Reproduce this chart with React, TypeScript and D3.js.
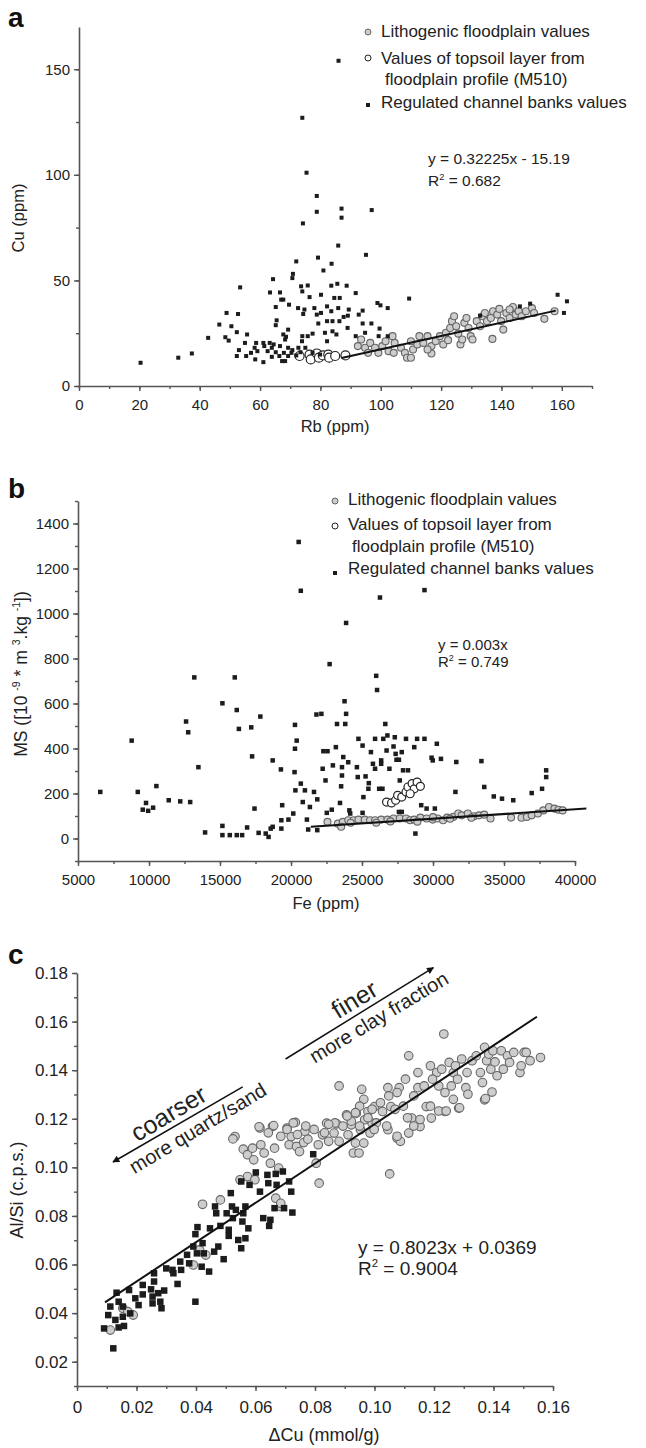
import React, { useEffect, useRef } from 'react';
import * as d3 from 'd3';

type Pt = [number, number];

// ---------- panel a : Cu vs Rb ----------
const rbCuBanks: Pt[] = [
  [86, 154], [74, 127], [75.4, 101], [78.8, 90], [78.8, 82.5], [87, 84], [87, 79.7], [97, 83.3], [74.2, 77],
  [85.9, 66.5], [79.2, 60.8], [95.1, 62.1], [72, 59], [83.7, 57.9], [81, 54.7], [70.9, 53.1], [70.7, 51.1],
  [64.3, 50.6], [53.4, 46.7], [73.6, 47.2], [75.8, 47.6], [85.6, 48.4], [83.6, 47.5], [88.7, 47.5], [74, 44.8],
  [63.3, 44.3], [66.6, 44.3], [76.4, 42.1], [80.2, 43.2], [84.6, 41.7], [86.4, 41.7], [91.7, 44], [67, 40.9],
  [67.7, 40.9], [65.2, 37.4], [69.6, 38.5], [72.6, 36.9], [74.7, 36.2], [78, 36.9], [82.2, 37.7], [85.9, 36.9],
  [98.9, 39.3], [99.9, 38.2], [102.3, 36.9], [109.4, 41.4], [48.9, 34.6], [52.7, 34.1], [74.3, 34.1], [78.8, 33.8],
  [80.2, 34.6], [83.6, 35.4], [89.4, 36.2], [92.7, 33.8], [94, 35.7], [89.1, 33.3], [87.7, 32.7], [86.3, 30.7],
  [84, 30.7], [82.2, 30.7], [79.3, 29.6], [65.5, 31.1], [65.2, 28.8], [46.5, 29.1], [50.5, 28.3], [94, 29.6],
  [96.9, 29.6], [69.3, 26.7], [89, 27.5], [99.6, 27.2], [84, 25.9], [81.5, 25.2], [77.4, 24.8], [85.3, 24.4],
  [52.3, 25.5], [55.7, 24.4], [67.7, 24.4], [68.6, 23.3], [91.7, 23.6], [94.8, 25.2], [42.8, 22.8], [48.5, 23.1],
  [49.6, 21.5], [68.3, 22], [74, 23.6], [75.8, 23.6], [73.9, 21.2], [82.2, 21.2], [99.3, 23.6], [102.3, 23.6],
  [55, 20.4], [58.7, 20.4], [61.1, 20.4], [63.2, 20.4], [64.5, 19.7], [58.2, 18.1], [61.4, 18.9], [63.9, 18.1],
  [66.6, 18.9], [69.3, 18.1], [70.7, 17], [72.7, 18.1], [75, 18.1], [53, 17], [59.1, 16.5], [62.5, 16.5],
  [65.2, 16], [67.9, 15.7], [70.4, 15.7], [73.4, 16], [52.3, 14.2], [55.4, 14.2], [58.4, 12.6], [61.1, 11.3],
  [63.9, 13.8], [67.3, 11.8], [68.3, 11.8], [66.4, 14.2], [69.3, 14.2], [72, 14.5], [57, 15.7], [32.9, 13.4],
  [37.4, 15.4], [20.4, 11], [77.4, 15.7], [79.9, 14.9], [158.6, 43.2], [161.7, 40.1], [160.7, 34.6],
  [149.5, 39], [146.1, 37.7], [132.9, 33.3],
];
const rbCuLitho: Pt[] = [
  [92.4, 18.9], [93.5, 22], [94.8, 18.1], [95.8, 15.7], [96.5, 20.4], [98.1, 18.1], [99.2, 15.7], [100.5, 18.9],
  [101.6, 21.2], [102.6, 16.5], [104.6, 20.4], [106.7, 18.1], [108, 15.7], [108.7, 13.4], [110, 13.4],
  [110.7, 17.3], [112.1, 19.7], [112.8, 23.6], [114.1, 20.4], [115.5, 23.6], [116.8, 18.9], [116.8, 15.4],
  [118.2, 21.2], [119.6, 23.6], [120.7, 19.7], [121.6, 25.2], [122.3, 21.7], [123, 27.5], [123.6, 30.7],
  [124.3, 33], [125, 28.3], [125.7, 24.8], [126.4, 19.7], [127, 22], [127.7, 29.9], [128.4, 32.2], [129.1, 27.5],
  [129.8, 23.6], [130.4, 22], [131.8, 30.7], [132.9, 28.3], [133.8, 33], [134.5, 34.6], [135.2, 30.7],
  [136.5, 32.2], [137.2, 35.4], [138.6, 33.8], [139.3, 36.5], [139.9, 30.7], [140.6, 26.7], [141.6, 34.6],
  [142.7, 32.2], [143.8, 37.4], [144.7, 33.8], [145.7, 35.4], [146.7, 33], [148.1, 35.4], [150.1, 36.9],
  [150.8, 34.6], [154.2, 31.8], [157.6, 35.4], [104.3, 15.7], [103.9, 23.6], [110, 21.2], [115.5, 17.3],
  [137, 22.3], [142.7, 36.2],
];
const rbCuTopsoil: Pt[] = [
  [73.1, 14.2], [76.4, 14.9], [76.8, 12.6], [78.8, 15.4], [79.5, 13.4], [80.8, 14.5], [82.6, 14.9], [82.9, 13.4],
  [84.9, 14.2], [88.3, 14.5],
];
const rbCuTrend: Pt[] = [[87, 13.3], [158, 35.7]];
const rbTicks = [0, 20, 40, 60, 80, 100, 120, 140, 160];
const rbMinor = d3.range(0, 171, 10);
const cuTicks = [0, 50, 100, 150];
const cuMinor = [0, 25, 50, 75, 100, 125, 150];

// ---------- panel b : MS vs Fe ----------
const feMsBanks: Pt[] = [
  [20540, 1318], [20690, 1101], [26265, 1071], [29400, 1104], [23880, 958], [22720, 775], [26000, 723],
  [26060, 660], [13190, 716], [16040, 716], [15170, 601], [16180, 571], [16330, 487], [17840, 542], [17200, 494],
  [12610, 520], [12760, 472], [8780, 435], [13480, 317], [17260, 365], [18710, 347], [6570, 207], [9210, 207],
  [10520, 233], [9790, 158], [9560, 128], [9940, 123], [10290, 137], [11390, 170], [12200, 165], [12900, 162],
  [17430, 133], [13950, 27], [15170, 56], [15170, 15], [15690, 15], [16180, 15], [16560, 15], [16910, 49],
  [17720, 25], [18220, 22], [18420, 7], [18570, 44], [18710, 52], [19290, 307], [19380, 148], [19320, 81],
  [19320, 44], [19820, 84], [20160, 111], [20310, 214], [20250, 295], [20280, 399], [20400, 435], [20280, 505],
  [20690, 244], [20980, 214], [21120, 84], [21210, 40], [20830, 162], [21330, 140], [21620, 207], [21790, 551],
  [22140, 554], [21850, 174], [22230, 310], [22280, 388], [22570, 388], [22430, 258], [22520, 114], [22870, 128],
  [22950, 325], [23160, 406], [23240, 509], [23450, 158], [23530, 232], [23590, 280], [23590, 317], [23680, 362],
  [23770, 610], [23820, 509], [23880, 554], [24030, 339], [24110, 125], [24170, 111], [24640, 317], [24700, 273],
  [24750, 443], [25040, 413], [25250, 276], [25480, 246], [25450, 221], [25100, 184], [25040, 114], [25630, 384],
  [25770, 332], [25920, 310], [25920, 443], [26350, 332], [26210, 221], [26440, 221], [26640, 509], [26790, 458],
  [26500, 443], [26350, 347], [26730, 391], [26930, 310], [27220, 409], [27370, 376], [27430, 350], [27310, 450],
  [27600, 350], [27800, 384], [27890, 303], [27660, 258], [28100, 443], [28240, 303], [27600, 118], [27800, 118],
  [28680, 406], [28880, 443], [29400, 443], [29170, 148], [29550, 133], [30130, 133], [28760, 22], [29900, 359],
  [29980, 347], [30270, 421], [30560, 354], [31580, 207], [31640, 340], [33410, 344], [33610, 229], [34280, 187],
  [34860, 177], [35650, 170], [36950, 202], [37680, 221], [37970, 273], [37970, 303], [21850, 37],
];
const feMsLitho: Pt[] = [
  [22570, 74], [23300, 66], [23650, 74], [24030, 81], [24410, 81], [24750, 84], [25190, 84], [25570, 81],
  [25920, 81], [26350, 84], [26790, 84], [27220, 89], [27660, 89], [28100, 89], [28390, 81], [28680, 84],
  [29110, 93], [29550, 89], [29980, 84], [30330, 89], [30710, 81], [31000, 93], [31430, 96], [31780, 111],
  [32020, 103], [32450, 111], [32890, 99], [33240, 103], [33610, 106], [34050, 89], [35500, 93], [36230, 92],
  [36610, 96], [36950, 103], [37390, 111], [37770, 125], [38170, 140], [38550, 133], [38840, 128], [39130, 125],
  [23530, 52], [24200, 70], [26000, 70], [27000, 76], [28900, 75], [30000, 95], [31200, 88], [32700, 92],
];
const feMsTopsoil: Pt[] = [
  [26730, 162], [27080, 158], [27370, 170], [27510, 192], [27800, 184], [28100, 207], [28240, 229], [28530, 244],
  [28680, 221], [28880, 251], [29110, 232], [28390, 199],
];
const feMsTrend: Pt[] = [[21400, 52], [40800, 133]];
const feTicks = d3.range(5000, 40001, 5000);
const feMinor = d3.range(5000, 40001, 2500);
const msTicks = d3.range(0, 1401, 200);
const msMinor = d3.range(-100, 1501, 100);

// ---------- panel c : Al/Si vs dCu ----------
const cuAlBanks: Pt[] = [
  [0.0091, 0.0337], [0.0105, 0.0392], [0.0112, 0.0427], [0.0133, 0.0484], [0.014, 0.0447], [0.0129, 0.0372],
  [0.014, 0.0341], [0.0122, 0.0255], [0.0154, 0.0427], [0.0154, 0.0385], [0.0158, 0.0347], [0.0175, 0.0495],
  [0.0179, 0.0399], [0.0196, 0.0461], [0.0207, 0.0433], [0.0221, 0.0516], [0.0221, 0.0477], [0.0249, 0.0498],
  [0.0259, 0.0564], [0.0259, 0.053], [0.0254, 0.0468], [0.0254, 0.044], [0.0273, 0.0482], [0.028, 0.0447],
  [0.0284, 0.042], [0.0293, 0.0493], [0.03, 0.0584], [0.0321, 0.0578], [0.0324, 0.0564], [0.0338, 0.052],
  [0.0347, 0.0612], [0.035, 0.0578], [0.037, 0.064], [0.0377, 0.0605], [0.0391, 0.0674], [0.0398, 0.0725],
  [0.0405, 0.0754], [0.0403, 0.0646], [0.0398, 0.0447], [0.0419, 0.0591], [0.0422, 0.0688], [0.0426, 0.0646],
  [0.0444, 0.0571], [0.0447, 0.0749], [0.0461, 0.0653], [0.0464, 0.0839], [0.0468, 0.0811], [0.0475, 0.0674],
  [0.0482, 0.0759], [0.0493, 0.0622], [0.0503, 0.0811], [0.051, 0.0743], [0.051, 0.0718], [0.0517, 0.0894],
  [0.0521, 0.0839], [0.0524, 0.0791], [0.0534, 0.0825], [0.0542, 0.0701], [0.0552, 0.0942], [0.0552, 0.0667],
  [0.0556, 0.0777], [0.0559, 0.0811], [0.0566, 0.0839], [0.0566, 0.0708], [0.0576, 0.0749], [0.058, 0.0928],
  [0.0601, 0.0979], [0.0615, 0.09], [0.0626, 0.0791], [0.064, 0.0969], [0.0643, 0.0935], [0.0646, 0.0759],
  [0.065, 0.0784], [0.0664, 0.0832], [0.0668, 0.0973], [0.0671, 0.0928], [0.0692, 0.0983], [0.0696, 0.0832],
  [0.0713, 0.0942], [0.072, 0.09], [0.0724, 0.0814], [0.0794, 0.1054],
];
const cuAlLitho: Pt[] = [
  [0.0112, 0.033], [0.0154, 0.042], [0.0171, 0.0406], [0.0189, 0.0392], [0.0422, 0.0848], [0.0412, 0.066],
  [0.0531, 0.1127], [0.0559, 0.1075], [0.0573, 0.1052], [0.0573, 0.0962], [0.059, 0.1079], [0.0594, 0.1031],
  [0.0615, 0.1162], [0.0618, 0.1093], [0.0629, 0.1059], [0.0657, 0.1168], [0.065, 0.1017], [0.0664, 0.1079],
  [0.0678, 0.0997], [0.0668, 0.0873], [0.0685, 0.0839], [0.0706, 0.1162], [0.0713, 0.1093], [0.072, 0.1127],
  [0.0734, 0.1185], [0.0738, 0.1086], [0.0748, 0.1065], [0.0766, 0.1148], [0.0762, 0.1102], [0.0776, 0.1116],
  [0.0811, 0.1093], [0.0814, 0.0935], [0.0804, 0.1017], [0.0825, 0.1134], [0.0839, 0.1182], [0.0846, 0.1107],
  [0.0864, 0.1141], [0.0873, 0.1179], [0.0881, 0.1107], [0.0906, 0.1216], [0.0911, 0.1134], [0.0922, 0.1175],
  [0.0929, 0.1059], [0.0936, 0.11], [0.0939, 0.1223], [0.0948, 0.1059], [0.0953, 0.1155], [0.0964, 0.11],
  [0.0967, 0.1196], [0.0978, 0.123], [0.0985, 0.1141], [0.0992, 0.1182], [0.1, 0.125], [0.1027, 0.123],
  [0.1045, 0.1155], [0.1055, 0.125], [0.1076, 0.112], [0.1087, 0.1107], [0.1115, 0.1141], [0.1125, 0.1203],
  [0.1153, 0.1168], [0.1174, 0.125], [0.1191, 0.1203], [0.1237, 0.123], [0.1283, 0.1244], [0.137, 0.1278],
  [0.1051, 0.0973], [0.1233, 0.1549], [0.1115, 0.1459], [0.0881, 0.1335], [0.0957, 0.1321], [0.0727, 0.1183],
  [0.0661, 0.1172], [0.0612, 0.1167], [0.0524, 0.1117], [0.1045, 0.1328], [0.1083, 0.1328], [0.1104, 0.1363],
  [0.1146, 0.139], [0.1188, 0.1418], [0.1209, 0.139], [0.1226, 0.1404], [0.1251, 0.1432], [0.1265, 0.139],
  [0.1272, 0.1418], [0.1293, 0.1446], [0.1311, 0.139], [0.1328, 0.1439], [0.1342, 0.1459], [0.1356, 0.139],
  [0.1363, 0.1349], [0.137, 0.1494], [0.1377, 0.1439], [0.1384, 0.1466], [0.1391, 0.1404], [0.1398, 0.148],
  [0.1405, 0.1434], [0.1412, 0.1377], [0.1426, 0.148], [0.1433, 0.1404], [0.1447, 0.1459], [0.1454, 0.1432],
  [0.1468, 0.1473], [0.1489, 0.139], [0.1493, 0.1418], [0.1503, 0.1473], [0.151, 0.1473], [0.1523, 0.1439],
  [0.1558, 0.1452], [0.1373, 0.1283], [0.1395, 0.131], [0.1048, 0.1294], [0.1076, 0.1308], [0.1132, 0.1294],
  [0.1146, 0.1328], [0.1167, 0.1335], [0.1195, 0.1363], [0.1216, 0.1335], [0.1237, 0.1308], [0.1258, 0.1335],
  [0.1279, 0.1363], [0.1188, 0.1252], [0.1216, 0.1232], [0.1241, 0.1232], [0.1265, 0.128], [0.1286, 0.1245],
  [0.1307, 0.1328], [0.1314, 0.1301], [0.1153, 0.1197], [0.1132, 0.117], [0.1111, 0.1204], [0.1097, 0.1252],
  [0.1069, 0.1239], [0.102, 0.1266], [0.0992, 0.1239], [0.0964, 0.128], [0.095, 0.1252], [0.0936, 0.1225],
  [0.0922, 0.119], [0.0978, 0.1204], [0.1006, 0.1183], [0.1041, 0.117], [0.1076, 0.1128], [0.0999, 0.1156],
  [0.095, 0.117], [0.0908, 0.1211], [0.0894, 0.117], [0.0867, 0.1183], [0.0832, 0.1142], [0.0846, 0.1177],
  [0.0797, 0.1156], [0.0769, 0.117], [0.0741, 0.1135], [0.0706, 0.1156], [0.0685, 0.1128], [0.0643, 0.1142],
  [0.0433, 0.0639], [0.0391, 0.0598], [0.0482, 0.0866], [0.0548, 0.0949], [0.0598, 0.0949], [0.0685, 0.0852],
];
const cuAlTrend: Pt[] = [[0.0094, 0.0444], [0.1546, 0.162]];
const dcuTicks = d3.range(0, 9).map(i => i * 0.02);
const dcuMinor = d3.range(0, 17).map(i => i * 0.01);
const alTicks = d3.range(1, 10).map(i => i * 0.02);
const alMinor = d3.range(1, 19).map(i => i * 0.01);
// arrows of panel c, in data units
const finerArrow: Pt[] = [[0.0701, 0.1446], [0.1198, 0.1822]];
const coarserArrow: Pt[] = [[0.0557, 0.1331], [0.0121, 0.1022]];

const legendLabels = ['Lithogenic floodplain values', 'Values of topsoil layer from', 'floodplain profile (M510)', 'Regulated channel banks values'];

const FONT = '"Liberation Sans", Arial, Helvetica, sans-serif';
const AXIS = '#555';
const INK = '#222';

type Sel = d3.Selection<any, unknown, null, undefined>;

function supText(g: Sel, x: number, y: number, size: number, parts: [string, boolean][], anchor = 'start') {
  const t = g.append('text').attr('x', x).attr('y', y).attr('font-size', size).attr('fill', INK)
    .attr('font-family', FONT).attr('text-anchor', anchor);
  let up = false;
  parts.forEach(([s, sup]) => {
    const sp = t.append('tspan').text(s);
    if (sup && !up) { sp.attr('dy', -size * 0.4).attr('font-size', size * 0.6); up = true; }
    else if (sup) sp.attr('font-size', size * 0.6);
    else if (!sup && up) { sp.attr('dy', size * 0.4); up = false; }
  });
  return t;
}

interface PanelOpts {
  xDomain: [number, number]; xRange: [number, number];
  yDomain: [number, number]; yRange: [number, number];
  xTicks: number[]; xMinor: number[]; yTicks: number[]; yMinor: number[];
  xFmt: (d: number) => string; yFmt: (d: number) => string;
  tickFont: number; xPad: number; yPad: number;
}

function axes(svg: Sel, o: PanelOpts) {
  const x = d3.scaleLinear().domain(o.xDomain).range(o.xRange);
  const y = d3.scaleLinear().domain(o.yDomain).range(o.yRange);
  const g = svg.append('g');
  const bottom = o.yRange[0];
  const left = o.xRange[0];

  g.append('g').attr('transform', `translate(0,${bottom})`)
    .call(d3.axisBottom(x).tickValues(o.xMinor).tickSize(3).tickSizeOuter(0).tickFormat(() => ''))
    .call(s => s.select('.domain').remove());
  g.append('g').attr('transform', `translate(${left},0)`)
    .call(d3.axisLeft(y).tickValues(o.yMinor).tickSize(3).tickSizeOuter(0).tickFormat(() => ''))
    .call(s => s.select('.domain').remove());
  g.append('g').attr('transform', `translate(0,${bottom})`)
    .call(d3.axisBottom(x).tickValues(o.xTicks).tickSize(5).tickSizeOuter(0).tickPadding(o.xPad).tickFormat(d => o.xFmt(+d)));
  g.append('g').attr('transform', `translate(${left},0)`)
    .call(d3.axisLeft(y).tickValues(o.yTicks).tickSize(5).tickSizeOuter(0).tickPadding(o.yPad).tickFormat(d => o.yFmt(+d)));

  g.selectAll('line').attr('stroke', AXIS).attr('stroke-width', 1.4);
  g.selectAll('.domain').attr('stroke', AXIS).attr('stroke-width', 1.6);
  g.selectAll('text').attr('font-family', FONT).attr('font-size', o.tickFont).attr('fill', INK);
  return { x, y };
}

function marks(svg: Sel, x: d3.ScaleLinear<number, number>, y: d3.ScaleLinear<number, number>,
  litho: Pt[], topsoil: Pt[], banks: Pt[], trend: Pt[], sq: number, rl: number, rt: number) {
  const g = svg.append('g');
  g.selectAll('circle.l').data(litho).join('circle').attr('class', 'l')
    .attr('cx', d => x(d[0])).attr('cy', d => y(d[1])).attr('r', rl)
    .attr('fill', '#cdcdcd').attr('stroke', '#666').attr('stroke-width', 1.1);
  g.selectAll('circle.t').data(topsoil).join('circle').attr('class', 't')
    .attr('cx', d => x(d[0])).attr('cy', d => y(d[1])).attr('r', rt)
    .attr('fill', '#fff').attr('stroke', '#222').attr('stroke-width', 1.2);
  g.selectAll('rect').data(banks).join('rect')
    .attr('x', d => x(d[0]) - sq / 2).attr('y', d => y(d[1]) - sq / 2).attr('width', sq).attr('height', sq)
    .attr('fill', '#1c1c1c');
  g.append('path').attr('d', d3.line<Pt>().x(d => x(d[0])).y(d => y(d[1]))(trend))
    .attr('stroke', '#111').attr('stroke-width', 2).attr('fill', 'none');
}

function legend(svg: Sel, mx: number, tx: number, rows: number[], marks3: number[], size: number) {
  const g = svg.append('g');
  g.append('circle').attr('cx', mx).attr('cy', marks3[0]).attr('r', 3).attr('fill', '#ccc').attr('stroke', '#666');
  g.append('circle').attr('cx', mx).attr('cy', marks3[1]).attr('r', 3).attr('fill', '#fff').attr('stroke', '#222');
  g.append('rect').attr('x', mx - 2).attr('y', marks3[2] - 2).attr('width', 4).attr('height', 4).attr('fill', '#1c1c1c');
  legendLabels.forEach((s, i) => {
    g.append('text').attr('x', tx + (i === 2 ? 4 : 0)).attr('y', rows[i]).attr('font-size', size)
      .attr('font-family', FONT).attr('fill', INK).text(s);
  });
}

function label(svg: Sel, s: string, x: number, y: number, size: number, rot = false) {
  svg.append('text').attr('transform', `translate(${x},${y})${rot ? ' rotate(-90)' : ''}`)
    .attr('text-anchor', 'middle').attr('dy', rot ? '0.35em' : 0).attr('font-size', size)
    .attr('font-family', FONT).attr('fill', INK).text(s);
}

function letter(svg: Sel, s: string, x: number, y: number) {
  svg.append('text').attr('x', x).attr('y', y).attr('font-size', 28).attr('font-weight', 'bold')
    .attr('font-family', FONT).attr('fill', '#111').text(s);
}

const App: React.FC = () => {
  const svgRef = useRef<SVGSVGElement>(null);

  useEffect(() => {
    if (!svgRef.current) return;
    const svg = d3.select(svgRef.current);
    svg.selectAll('*').remove();

    // ----- a -----
    const a = axes(svg, {
      xDomain: [0, 170], xRange: [79, 592], yDomain: [0, 170], yRange: [386, 27],
      xTicks: rbTicks, xMinor: rbMinor, yTicks: cuTicks, yMinor: cuMinor,
      xFmt: d => String(d), yFmt: d => String(d), tickFont: 15, xPad: 8, yPad: 4,
    });
    marks(svg, a.x, a.y, rbCuLitho, rbCuTopsoil, rbCuBanks, rbCuTrend, 4, 3.5, 4.5);
    letter(svg, 'a', 8, 27);
    label(svg, 'Rb (ppm)', 335, 432, 16.5);
    label(svg, 'Cu (ppm)', 18, 218, 16.5, true);
    legend(svg, 368, 381, [37, 64, 85, 108], [32, 58, 105], 17);
    supText(svg, 428, 164, 15.5, [['y = 0.32225x - 15.19', false]]);
    supText(svg, 428, 186, 15.5, [['R', false], ['2', true], [' = 0.682', false]]);

    // ----- b -----
    const b = axes(svg, {
      xDomain: [5000, 40000], xRange: [78, 575], yDomain: [-100, 1500], yRange: [861, 501],
      xTicks: feTicks, xMinor: feMinor, yTicks: msTicks, yMinor: msMinor,
      xFmt: d => String(d), yFmt: d => String(d), tickFont: 15, xPad: 8, yPad: 4,
    });
    marks(svg, b.x, b.y, feMsLitho, feMsTopsoil, feMsBanks, feMsTrend, 4.5, 3.5, 4);
    letter(svg, 'b', 8, 498);
    label(svg, 'Fe (ppm)', 326, 909, 16.5);
    supText(svg, 0, 0, 17.5, [['MS ([10 ', false], ['-9', true], [' * m ', false], ['3', true], ['.kg ', false], ['-1', true], ['])', false]], 'middle')
      .attr('transform', 'translate(27,674) rotate(-90)');
    legend(svg, 335, 348, [505, 530, 552, 574], [501, 526, 573], 17);
    supText(svg, 438, 650, 15, [['y = 0.003x', false]]);
    supText(svg, 438, 667, 15, [['R', false], ['2', true], [' = 0.749', false]]);

    // ----- c -----
    const c = axes(svg, {
      xDomain: [0, 0.16], xRange: [77, 553], yDomain: [0.01, 0.18], yRange: [1386, 973],
      xTicks: dcuTicks, xMinor: dcuMinor, yTicks: alTicks, yMinor: alMinor,
      xFmt: d => (d === 0 ? '0' : d.toFixed(2)), yFmt: d => d.toFixed(2), tickFont: 17, xPad: 10, yPad: 4,
    });
    marks(svg, c.x, c.y, cuAlLitho, [], cuAlBanks, cuAlTrend, 6.5, 4.3, 4);
    letter(svg, 'c', 8, 964);
    label(svg, '\u0394Cu (mmol/g)', 324, 1441, 18);
    label(svg, 'Al/Si (c.p.s.)', 17, 1190, 18, true);
    supText(svg, 358, 1254, 19, [['y = 0.8023x + 0.0369', false]]);
    supText(svg, 358, 1275, 19, [['R', false], ['2', true], [' = 0.9004', false]]);

    // arrows
    const defs = svg.append('defs');
    defs.append('marker').attr('id', 'ah').attr('viewBox', '0 0 10 10').attr('refX', 9).attr('refY', 5)
      .attr('markerWidth', 9).attr('markerHeight', 7).attr('orient', 'auto').attr('markerUnits', 'userSpaceOnUse')
      .append('path').attr('d', 'M0,0 L10,5 L0,10 Z').attr('fill', '#111');
    const arrowLine = d3.line<Pt>().x(d => c.x(d[0])).y(d => c.y(d[1]));
    [finerArrow, coarserArrow].forEach(arr => {
      svg.append('path').attr('d', arrowLine(arr)).attr('stroke', '#111').attr('stroke-width', 1.5)
        .attr('fill', 'none').attr('marker-end', 'url(#ah)');
    });
    const ang = -31;
    const rotText = (s: string, px: number, py: number, dy: number, size: number) => {
      svg.append('text').attr('transform', `translate(${px},${py}) rotate(${ang})`).attr('y', dy)
        .attr('text-anchor', 'middle').attr('font-size', size).attr('font-family', FONT).attr('fill', INK).text(s);
    };
    rotText('finer', 362, 1012, -6, 25);
    rotText('more clay fraction', 372, 1006, 20, 20);
    rotText('coarser', 176, 1126, -6, 25);
    rotText('more quartz/sand', 191, 1117, 20, 20);
  }, []);

  return (
    <svg ref={svgRef} width={646} height={1448}
      style={{ position: 'absolute', left: 0, top: 0, background: '#fff' }} />
  );
};

export default App;
